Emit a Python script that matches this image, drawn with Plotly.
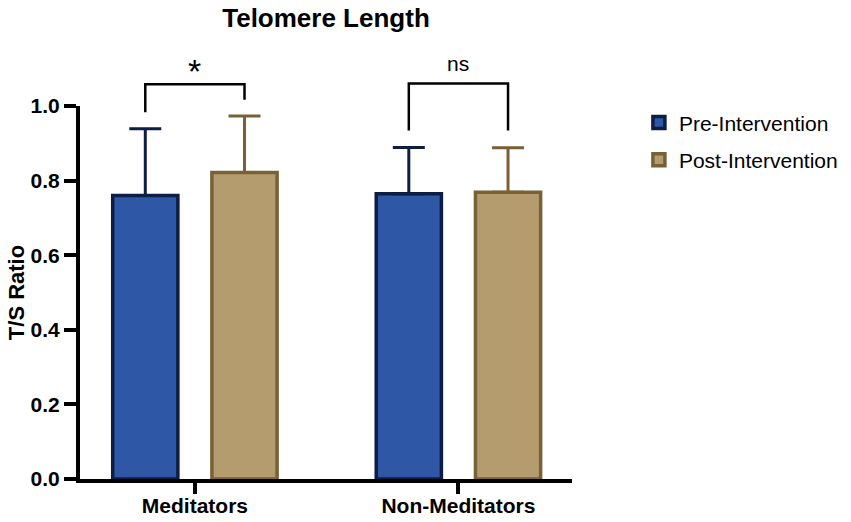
import plotly.graph_objects as go

categories = ["Meditators", "Non-Meditators"]
series_names = ["Pre-Intervention", "Post-Intervention"]
pre_values = [0.760, 0.765]
post_values = [0.822, 0.769]
pre_err = [0.179, 0.124]
post_err = [0.151, 0.119]
fill_colors = ["#2E58A5", "#B59C6E"]
edge_colors = ["#0E1D44", "#786136"]
y_ticks = [0.0, 0.2, 0.4, 0.6, 0.8, 1.0]
y_tick_labels = ["0.0", "0.2", "0.4", "0.6", "0.8", "1.0"]

# significance brackets (in data units of the y axis)
sig_labels = ["*", "ns"]
sig_sizes = [34, 21]
sig_shifts = [-8, 7]
bracket_tops = [1.058, 1.060]
bracket_left_ends = [0.983, 0.934]
bracket_right_ends = [1.017, 0.934]

BARGAP = 0.247
BARGROUPGAP = 0.343
FONT = "Liberation Sans, Arial, sans-serif"

W, H = 851, 522
ML, MR, MT, MB = 80, 279, 106, 43

fig = go.Figure()
for name, vals, errs, fc, ec in zip(series_names, [pre_values, post_values],
                                    [pre_err, post_err], fill_colors, edge_colors):
    fig.add_trace(go.Bar(
        x=categories, y=vals, name=name, legendgroup=name,
        marker=dict(color=fc, line=dict(color=ec, width=3.5)),
        error_y=dict(type="data", array=errs, symmetric=False,
                     arrayminus=[0] * len(errs), color=ec,
                     thickness=3, width=16),
    ))

# bar centre offset inside a group (category units)
off = (1 - BARGAP) / 4
shapes = []
annotations = []
for i, (lab, top, yl, yr, sz, sh) in enumerate(zip(sig_labels, bracket_tops,
                                                  bracket_left_ends, bracket_right_ends,
                                                  sig_sizes, sig_shifts)):
    x0, x1 = i - off, i + off
    shapes.append(dict(
        type="path", xref="x", yref="paper",
        path=f"M {x0},{yl} L {x0},{top} L {x1},{top} L {x1},{yr}",
        line=dict(color="black", width=2.5),
    ))
    annotations.append(dict(
        x=i, y=top, xref="x", yref="paper", text=lab, showarrow=False,
        yanchor="bottom", yshift=sh,
        font=dict(family=FONT, size=sz, color="black"),
    ))

plot_w = W - ML - MR
fig.update_layout(
    width=W, height=H,
    margin=dict(l=ML, r=MR, t=MT, b=MB, autoexpand=False),
    paper_bgcolor="white", plot_bgcolor="white",
    barmode="group", bargap=BARGAP, bargroupgap=BARGROUPGAP,
    title=dict(text="<b>Telomere Length</b>", x=(ML + plot_w / 2) / W, xanchor="center",
               y=1 - 18 / H, yanchor="middle",
               font=dict(family=FONT, size=26, color="black")),
    font=dict(family=FONT, color="black"),
    showlegend=True,
    legend=dict(x=1.136, xanchor="left", y=1.01, yanchor="top",
                traceorder="grouped", tracegroupgap=7,
                font=dict(family=FONT, size=21, color="black"),
                bgcolor="rgba(0,0,0,0)"),
    shapes=shapes, annotations=annotations,
)
fig.update_xaxes(
    type="category", range=[-0.436, 1.431], automargin=False,
    showline=True, linecolor="black", linewidth=4,
    ticks="outside", ticklen=11, tickwidth=3.5, tickcolor="black",
    tickfont=dict(family=FONT, size=21, color="black"),
    ticklabelstandoff=-6,
    tickprefix="<b>", ticksuffix="</b>",
    showgrid=False, zeroline=False,
)
fig.update_yaxes(
    range=[0, 1.0], tickvals=y_ticks, ticktext=[f"<b>{t}</b>" for t in y_tick_labels],
    automargin=False,
    showline=True, linecolor="black", linewidth=4,
    ticks="outside", ticklen=12, tickwidth=3.5, tickcolor="black",
    tickfont=dict(family=FONT, size=21, color="black"),
    title=dict(text="<b>T/S Ratio</b>", font=dict(family=FONT, size=22, color="black"),
               standoff=1),
    showgrid=False, zeroline=False,
)

fig.write_html("out.html",
               config={"displayModeBar": False},
               post_script="document.body.style.margin='0px';"
                           "document.body.style.overflow='hidden';")
